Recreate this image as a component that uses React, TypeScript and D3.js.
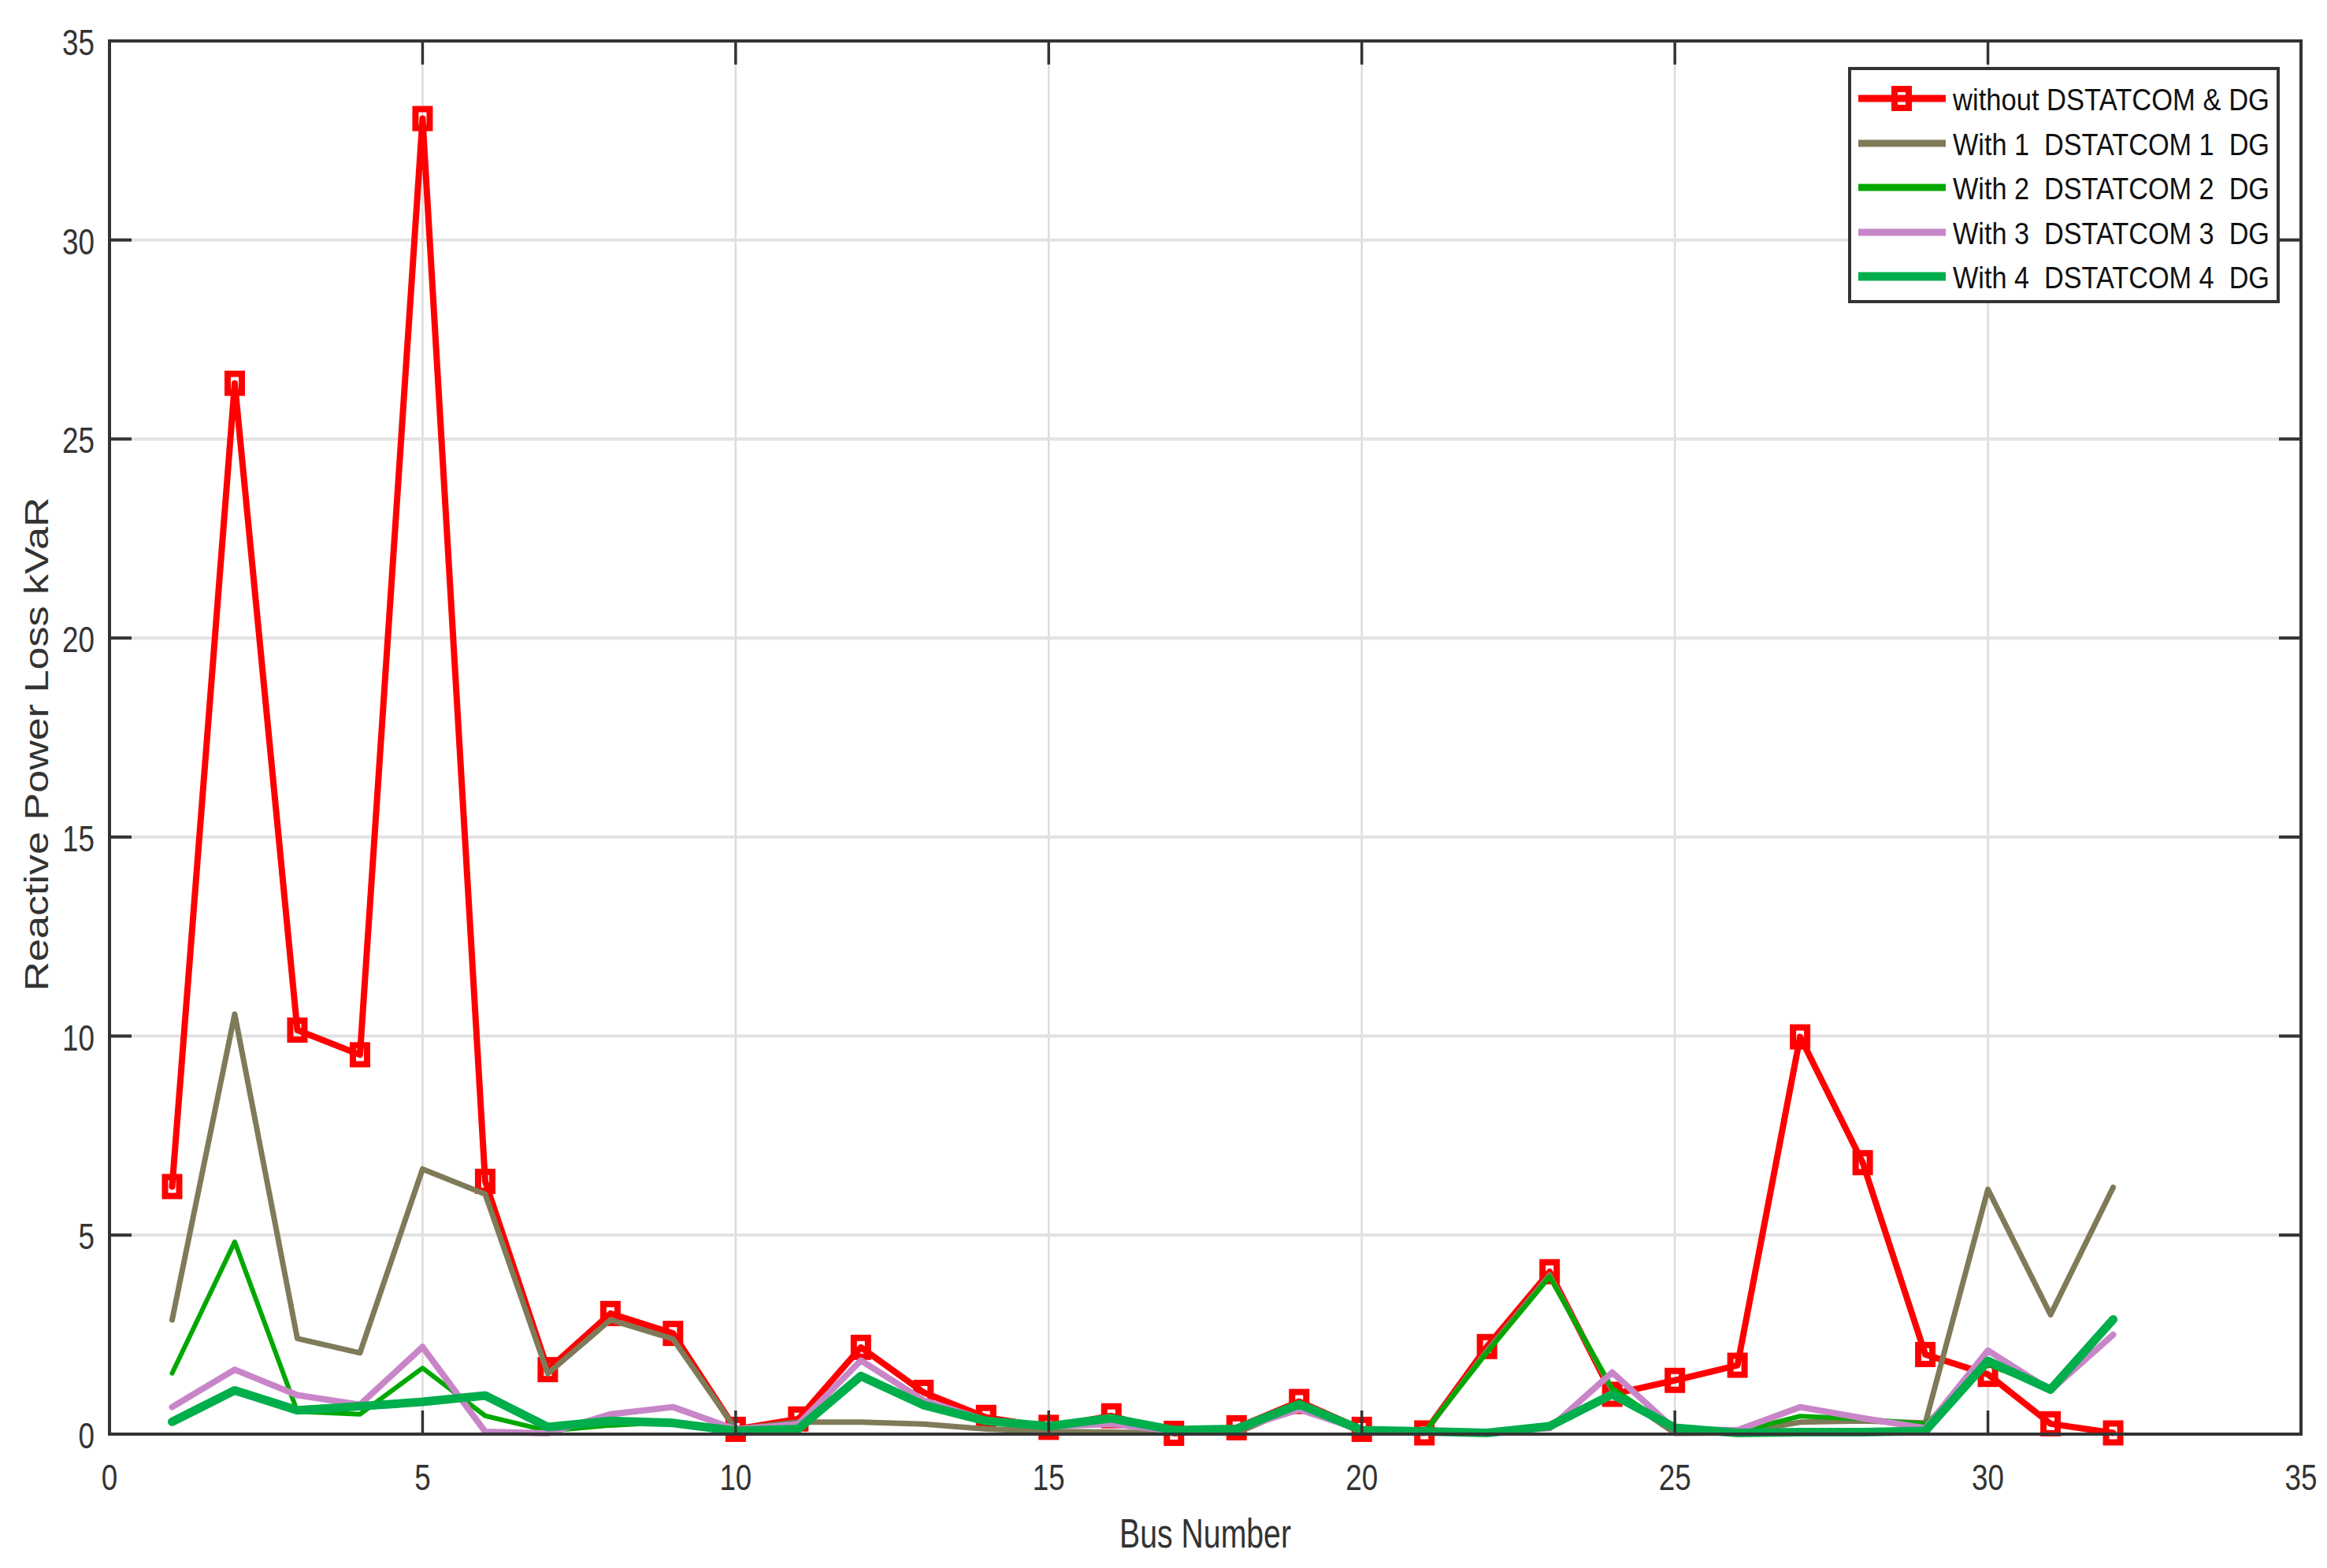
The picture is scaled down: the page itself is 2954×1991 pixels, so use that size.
import React from 'react';
import * as d3 from 'd3';

const buses = [1, 2, 3, 4, 5, 6, 7, 8, 9, 10, 11, 12, 13, 14, 15, 16, 17, 18, 19, 20, 21, 22, 23, 24, 25, 26, 27, 28, 29, 30, 31, 32];

const withoutDG = [6.22, 26.4, 10.15, 9.53, 33.05, 6.35, 1.62, 3.03, 2.53, 0.12, 0.38, 2.18, 1.05, 0.42, 0.17, 0.46, 0.02, 0.16, 0.82, 0.12, 0.03, 2.2, 4.08, 1.0, 1.35, 1.73, 9.98, 6.82, 2.0, 1.5, 0.26, 0.03];
const with1 = [2.87, 10.55, 2.4, 2.04, 6.66, 6.03, 1.52, 2.87, 2.39, 0.13, 0.3, 0.3, 0.25, 0.13, 0.07, 0.05, 0.03, 0.03, 0.7, 0.05, 0.03, 2.1, 4.0, 1.1, 0.02, 0.03, 0.3, 0.33, 0.28, 6.15, 3.0, 6.2];
const with2 = [1.53, 4.83, 0.57, 0.5, 1.66, 0.46, 0.08, 0.22, 0.3, 0.08, 0.12, 1.5, 0.75, 0.3, 0.2, 0.4, 0.1, 0.13, 0.72, 0.1, 0.05, 2.05, 3.95, 1.15, 0.1, 0.05, 0.45, 0.38, 0.25, 1.75, 1.12, 2.85];
const with3 = [0.68, 1.62, 0.98, 0.74, 2.19, 0.06, 0.02, 0.5, 0.68, 0.12, 0.25, 1.85, 0.85, 0.35, 0.2, 0.25, 0.08, 0.12, 0.62, 0.1, 0.08, 0.05, 0.15, 1.55, 0.12, 0.1, 0.68, 0.4, 0.15, 2.1, 1.1, 2.5];
const with4 = [0.31, 1.1, 0.6, 0.7, 0.81, 0.97, 0.18, 0.33, 0.28, 0.08, 0.13, 1.46, 0.73, 0.33, 0.2, 0.4, 0.1, 0.13, 0.75, 0.1, 0.07, 0.03, 0.2, 1.0, 0.16, 0.03, 0.05, 0.05, 0.08, 1.84, 1.12, 2.88];

const seriesNames = [
  'without DSTATCOM & DG',
  'With 1  DSTATCOM 1  DG',
  'With 2  DSTATCOM 2  DG',
  'With 3  DSTATCOM 3  DG',
  'With 4  DSTATCOM 4  DG',
];
const seriesColors = ['#FF0000', '#7F7A58', '#00A800', '#C886C8', '#00AE4C'];
const seriesWidths = [8, 7, 6, 8, 11];
const seriesValues = [withoutDG, with1, with2, with3, with4];

const xTickValues = [0, 5, 10, 15, 20, 25, 30, 35];
const yTickValues = [0, 5, 10, 15, 20, 25, 30, 35];

const xLabel = 'Bus Number';
const yLabel = 'Reactive Power Loss kVaR';

const W = 2954;
const H = 1991;
const L = 139, R = 2921, T = 52, B = 1821;
const FONT = '"Liberation Sans", Arial, sans-serif';
const AX = '#333333';

export default function App() {
  const x = d3.scaleLinear().domain([0, 35]).range([L, R]);
  const y = d3.scaleLinear().domain([0, 35]).range([B, T]);
  const line = d3.line<number>()
    .x((_, i) => x(buses[i]))
    .y((d) => y(d));

  const legendRows = [125, 182, 238, 295, 351];

  return (
    <svg width={W} height={H} style={{ position: 'absolute', left: 0, top: 0, display: 'block', background: '#fff' }}>
      <rect x={0} y={0} width={W} height={H} fill="#fff" />
      {/* grid */}
      {xTickValues.filter((t) => t > 0 && t < 35).map((t) => (
        <line key={'gx' + t} x1={x(t)} x2={x(t)} y1={T} y2={B} stroke="#DCDCDC" strokeWidth={2.5} />
      ))}
      {yTickValues.filter((t) => t > 0 && t < 35).map((t) => (
        <line key={'gy' + t} x1={L} x2={R} y1={y(t)} y2={y(t)} stroke="#E2E2E2" strokeWidth={4} />
      ))}
      {/* series */}
      {seriesValues.map((vals, si) => (
        <path key={'s' + si} d={line(vals) || ''} fill="none" stroke={seriesColors[si]}
          strokeWidth={seriesWidths[si]} strokeLinejoin="round" strokeLinecap="round" />
      )).slice(0, 1)}
      {withoutDG.map((v, i) => (
        <rect key={'m' + i} x={x(buses[i]) - 9} y={y(v) - 12} width={18} height={24}
          fill="none" stroke="#FF0000" strokeWidth={8} />
      ))}
      {seriesValues.map((vals, si) => (
        <path key={'t' + si} d={line(vals) || ''} fill="none" stroke={seriesColors[si]}
          strokeWidth={seriesWidths[si]} strokeLinejoin="round" strokeLinecap="round" />
      )).slice(1)}
      {/* axes box */}
      <rect x={L} y={T} width={R - L} height={B - T} fill="none" stroke={AX} strokeWidth={4} />
      {xTickValues.map((t) => (
        <g key={'xt' + t}>
          <line x1={x(t)} x2={x(t)} y1={B} y2={B - 30} stroke={AX} strokeWidth={3.5} />
          <line x1={x(t)} x2={x(t)} y1={T} y2={T + 30} stroke={AX} strokeWidth={3.5} />
          <text transform={`translate(${x(t)},${1876}) scale(0.8,1)`} textAnchor="middle"
            dominantBaseline="central" fontFamily={FONT} fontSize={46} fill="#333">{t}</text>
        </g>
      ))}
      {yTickValues.map((t) => (
        <g key={'yt' + t}>
          <line x1={L} x2={L + 28} y1={y(t)} y2={y(t)} stroke={AX} strokeWidth={4} />
          <line x1={R} x2={R - 28} y1={y(t)} y2={y(t)} stroke={AX} strokeWidth={4} />
          <text transform={`translate(${120},${y(t) + 2}) scale(0.8,1)`} textAnchor="end"
            dominantBaseline="central" fontFamily={FONT} fontSize={46} fill="#333">{t}</text>
        </g>
      ))}
      {/* axis labels */}
      <text x={(L + R) / 2} y={1947} textAnchor="middle" dominantBaseline="central"
        fontFamily={FONT} fontSize={52} fill="#333" textLength={218} lengthAdjust="spacingAndGlyphs">{xLabel}</text>
      <text transform={`translate(46,${945}) rotate(-90)`} textAnchor="middle" dominantBaseline="central"
        fontFamily={FONT} fontSize={42} fill="#333" textLength={627} lengthAdjust="spacingAndGlyphs">{yLabel}</text>
      {/* legend */}
      <rect x={2348} y={87} width={544} height={296} fill="#fff" stroke={AX} strokeWidth={4} />
      {seriesNames.map((name, si) => (
        <g key={'lg' + si}>
          <line x1={2359} x2={2470} y1={legendRows[si]} y2={legendRows[si]} stroke={seriesColors[si]} strokeWidth={si === 4 ? 11 : 9} />
          {si === 0 && (
            <rect x={2414 - 9} y={legendRows[si] - 12} width={18} height={24} fill="none" stroke="#FF0000" strokeWidth={8} />
          )}
          <text x={2479} y={legendRows[si] + 2} dominantBaseline="central" fontFamily={FONT} fontSize={38}
            fill="#111" textLength={402} lengthAdjust="spacingAndGlyphs" style={{ whiteSpace: 'pre' }}>{name}</text>
        </g>
      ))}
    </svg>
  );
}
